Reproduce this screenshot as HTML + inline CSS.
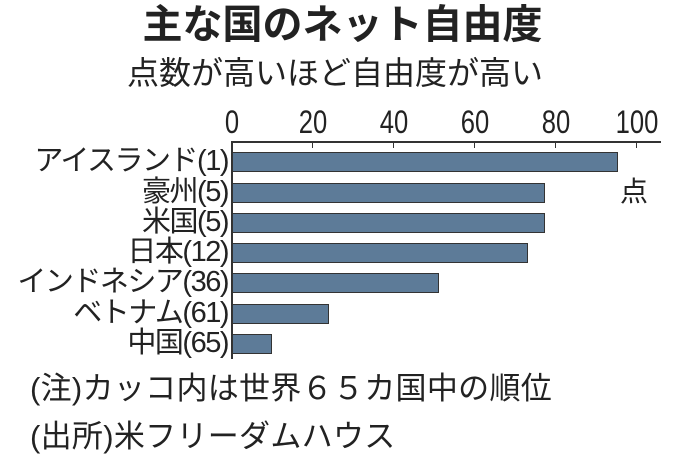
<!DOCTYPE html>
<html><head><meta charset="utf-8"><style>
body{margin:0;background:#fff;width:680px;height:469px;overflow:hidden;position:relative;font-family:"Liberation Sans","Noto Sans CJK JP",sans-serif;color:#222}
.t{position:absolute;white-space:nowrap}
.bar{position:absolute;left:232px;height:20px;background:#5d7b98;border:1.5px solid #333;box-sizing:border-box}
.lab{position:absolute;right:452px;font-size:29px;letter-spacing:-1.5px;line-height:30px;white-space:nowrap}
.tk{position:absolute;top:104px;font-size:32px;transform:translateX(-50%) scaleX(0.8);line-height:36px}
</style></head><body>
<div class="t" style="left:0;width:685px;text-align:center;top:3px;font-size:40px;font-weight:bold;line-height:44px">主な国のネット自由度</div>
<div class="t" style="left:0;width:670px;text-align:center;top:54px;font-size:32px;line-height:38px">点数が高いほど自由度が高い</div>
<div class="tk" style="left:232px">0</div>
<div class="tk" style="left:313px">20</div>
<div class="tk" style="left:394px">40</div>
<div class="tk" style="left:475px">60</div>
<div class="tk" style="left:556px">80</div>
<div class="tk" style="left:637px">100</div>
<div style="position:absolute;left:231px;top:141px;width:430px;height:2px;background:#333"></div>
<div style="position:absolute;left:231px;top:141px;width:2px;height:218px;background:#333"></div>
<div style="position:absolute;left:312px;top:141px;width:1px;height:7px;background:#333"></div>
<div style="position:absolute;left:393px;top:141px;width:1px;height:7px;background:#333"></div>
<div style="position:absolute;left:474px;top:141px;width:1px;height:7px;background:#333"></div>
<div style="position:absolute;left:555px;top:141px;width:1px;height:7px;background:#333"></div>
<div style="position:absolute;left:636px;top:141px;width:1px;height:7px;background:#333"></div>
<div class="bar" style="top:152px;width:386px"></div>
<div class="bar" style="top:183px;width:313px"></div>
<div class="bar" style="top:213px;width:313px"></div>
<div class="bar" style="top:243px;width:296px"></div>
<div class="bar" style="top:273px;width:207px"></div>
<div class="bar" style="top:304px;width:97px"></div>
<div class="bar" style="top:334px;width:40px"></div>
<div class="lab" style="top:146px">アイスランド(1)</div>
<div class="lab" style="top:177px">豪州(5)</div>
<div class="lab" style="top:207px">米国(5)</div>
<div class="lab" style="top:237px">日本(12)</div>
<div class="lab" style="top:267px">インドネシア(36)</div>
<div class="lab" style="top:298px">ベトナム(61)</div>
<div class="lab" style="top:328px">中国(65)</div>
<div class="t" style="left:620px;top:170px;font-size:28px">点</div>
<div class="t" style="left:30px;top:371px;font-size:31px;line-height:36px;letter-spacing:0.3px">(注)カッコ内は世界６５カ国中の順位</div>
<div class="t" style="left:30px;top:419px;font-size:31px;line-height:36px;letter-spacing:0.3px">(出所)米フリーダムハウス</div>
</body></html>
